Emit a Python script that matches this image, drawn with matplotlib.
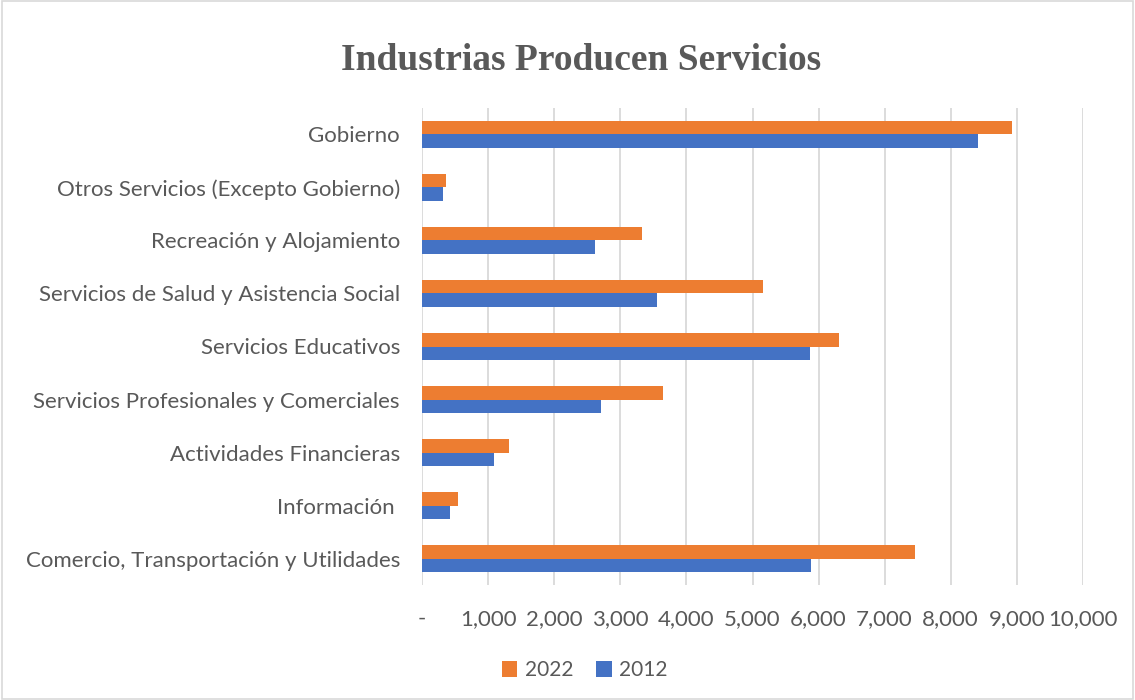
import numpy as np
import matplotlib.pyplot as plt
from matplotlib.patches import Rectangle

# datos (de abajo hacia arriba, como en el gráfico)
categorias = [
    'Comercio, Transportación y Utilidades',
    'Información ',
    'Actividades Financieras',
    'Servicios Profesionales y Comerciales',
    'Servicios Educativos',
    'Servicios de Salud y Asistencia Social',
    'Recreación y Alojamiento',
    'Otros Servicios (Excepto Gobierno)',
    'Gobierno',
]
valores_2022 = [7460, 540, 1320, 3640, 6310, 5160, 3320, 360, 8930]
valores_2012 = [5890, 420, 1080, 2710, 5870, 3560, 2610, 320, 8420]
ticks_x = [0, 1000, 2000, 3000, 4000, 5000, 6000, 7000, 8000, 9000, 10000]
etiquetas_x = ['-', '1,000', '2,000', '3,000', '4,000', '5,000',
               '6,000', '7,000', '8,000', '9,000', '10,000']

naranja = '#ED7D31'
azul = '#4472C4'
gris_texto = '#595959'

plt.rcParams['font.family'] = ['Lato', 'DejaVu Sans']

fig = plt.figure(figsize=(11.35, 7), dpi=100)
ax = fig.add_axes([0.372, 0.164, 0.582, 0.682])

y = np.arange(len(categorias))
alto = 0.255
ax.barh(y + alto / 2, valores_2022, height=alto, color=naranja, label='2022', zorder=3)
ax.barh(y - alto / 2, valores_2012, height=alto, color=azul, label='2012', zorder=3)

ax.set_xlim(0, 10000)
ax.set_ylim(-0.5, len(categorias) - 0.5)
ax.set_xticks(ticks_x)
ax.set_xticklabels(etiquetas_x)
ax.set_yticks(y)
ax.set_yticklabels(categorias)
ax.tick_params(axis='both', length=0, labelsize=16, colors=gris_texto)
ax.tick_params(axis='x', pad=17)
ax.tick_params(axis='y', pad=16)
ax.grid(axis='x', color='#D9D9D9', linewidth=1.3, zorder=0)
for s in ax.spines.values():
    s.set_visible(False)

fig.text(0.512, 0.913, 'Industrias Producen Servicios', ha='center', va='center',
         fontsize=27, fontweight='bold', color=gris_texto,
         family=['Liberation Serif', 'DejaVu Serif'])

leg = fig.legend(loc='center', bbox_to_anchor=(0.515, 0.043), ncol=2, frameon=False,
                 fontsize=15, handlelength=0.75, handleheight=0.8,
                 handletextpad=0.35, columnspacing=1.1)
for t in leg.get_texts():
    t.set_color(gris_texto)

# marco gris alrededor de la figura
fig.patches.append(Rectangle((0.002, 0.002), 0.996, 0.996, transform=fig.transFigure,
                             fill=False, edgecolor='#D9D9D9', linewidth=1.2))

fig.savefig('out.png', dpi=100)
